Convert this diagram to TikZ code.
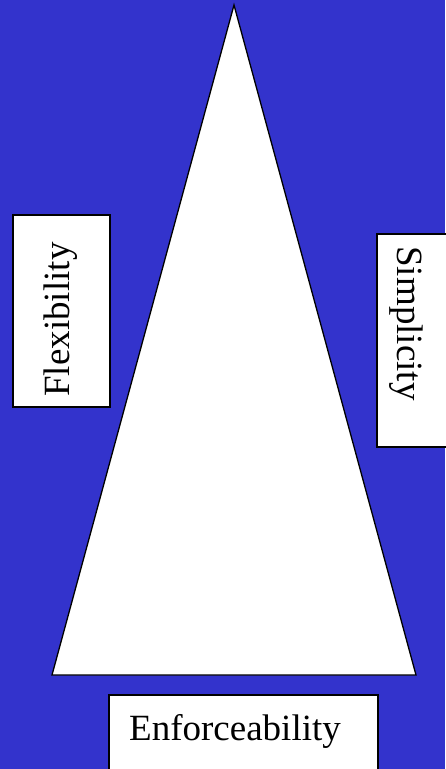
\documentclass[tikz,border=0pt]{standalone}
\usepackage{fontspec}
\setmainfont{Liberation Serif}
\definecolor{slideblue}{HTML}{3333CC}

\begin{document}
\begin{tikzpicture}[x=1pt, y=-1pt]
    % Achtergrond
    \fill[slideblue] (0,0) rectangle (445,769);
    \useasboundingbox (0,0) rectangle (445,769);

    % Driehoek
    \draw[fill=white, line width=1.3pt, line join=miter] (234,5) -- (52,675) -- (416,675) -- cycle;

    % Kaders
    \draw[fill=white, line width=1.3pt] (13,215) rectangle (110,407);
    \draw[fill=white, line width=1.3pt] (377,234) rectangle (447,447);
    \draw[fill=white, line width=1.3pt] (109,695) rectangle (378,772);

    % Labels
    \node[rotate=90, inner sep=0pt, font=\fontsize{37}{40}\selectfont] (flex) at (60.5,319.5) {Flexibility};
    \node[rotate=-90, inner sep=0pt, font=\fontsize{37}{40}\selectfont] (simp) at (406,323.5) {Simplicity};
    \node[inner sep=0pt, font=\fontsize{37}{40}\selectfont] (enf) at (235,731) {Enforceability};
\end{tikzpicture}
\end{document}
